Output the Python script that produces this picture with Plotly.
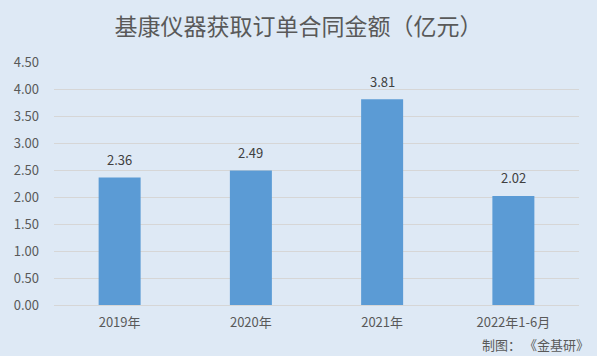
import plotly.graph_objects as go

categories = ["2019年", "2020年", "2021年", "2022年1-6月"]
values = [2.36, 2.49, 3.81, 2.02]
value_labels = ["2.36", "2.49", "3.81", "2.02"]
y_ticks = [0, 0.5, 1.0, 1.5, 2.0, 2.5, 3.0, 3.5, 4.0, 4.5]

bg = "#dee9f5"
font_family = "Noto Sans CJK SC"

fig = go.Figure(go.Bar(
    x=categories, y=values, marker=dict(color="#5b9bd5", line=dict(width=0)),
    width=0.32, hoverinfo="x+y",
))

for c, v, t in zip(categories, values, value_labels):
    fig.add_annotation(x=c, y=v, text=t, showarrow=False, yshift=18,
                       yanchor="middle",
                       font=dict(size=13, color="#404040", family=font_family))

fig.update_layout(
    width=597, height=356,
    paper_bgcolor=bg, plot_bgcolor=bg,
    margin=dict(l=54, r=18, t=62, b=51),
    font=dict(family=font_family, color="#595959", size=13),
    title=dict(text="基康仪器获取订单合同金额（亿元）", x=0.5, xanchor="center",
               y=1 - 27/356, yanchor="middle",
               font=dict(size=23, color="#595959", family=font_family)),
    showlegend=False,
)
fig.update_yaxes(range=[0, 4.5], tickvals=y_ticks, tickformat=".2f",
                 gridcolor="#d6d6d6", gridwidth=1, zeroline=False,
                 showline=False, ticks="", ticklabelstandoff=14,
                 tickfont=dict(size=13, color="#595959"))
fig.update_xaxes(showline=True, linecolor="#d6d6d6", linewidth=1, ticks="",
                 ticklabelstandoff=5,
                 tickfont=dict(size=13, color="#595959"))

fig.add_annotation(text="制图： 《金基研》", xref="paper", yref="paper",
                   x=1 + 12/525, y=-(344-305)/243, xanchor="right", yanchor="middle",
                   showarrow=False, font=dict(size=13, color="#595959", family=font_family))

fig.write_html("out.html", config={"displayModeBar": False},
               post_script="document.body.style.margin='0';document.body.style.background='%s';" % bg)
